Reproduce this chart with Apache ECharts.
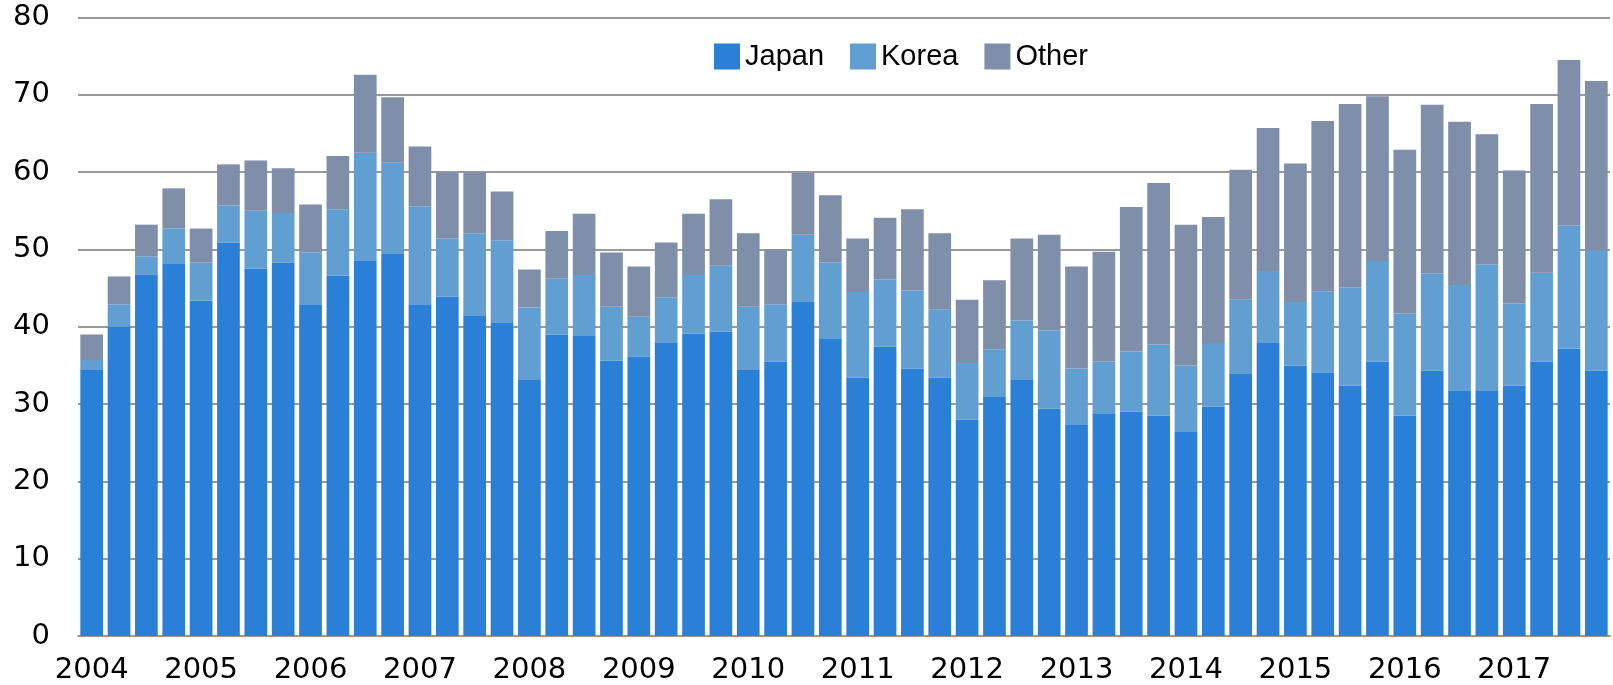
<!DOCTYPE html>
<html>
<head>
<meta charset="utf-8">
<title>Japan / Korea / Other</title>
<script src="https://cdn.jsdelivr.net/npm/echarts@6/dist/echarts.min.js"></script>
<style>
  html, body { margin: 0; padding: 0; background: #fff; }
  #main { width: 1613px; height: 685px; }
</style>
</head>
<body>
<div id="main"></div>
<script>
// years shown on the axis, one bar per quarter
var years = ['2004','2005','2006','2007','2008','2009','2010','2011','2012','2013','2014','2015','2016','2017'];
var quarters = ['Q1','Q2','Q3','Q4'];

var japan = [34.5,40.0,46.7,48.2, 43.4,50.9,47.5,48.3, 42.9,46.6,48.5,49.5, 42.9,43.9,41.5,40.5,
             33.2,39.0,38.8,35.6, 36.1,38.0,39.1,39.4, 34.5,35.5,43.2,38.5, 33.4,37.4,34.6,33.4,
             28.0,30.9,33.1,29.4, 27.4,28.7,29.0,28.5, 26.4,29.7,33.9,38.0, 35.0,34.1,32.4,35.5,
             28.5,34.3,31.7,31.8, 32.4,35.5,37.2,34.3];
var korea = [1.2,2.9,2.4,4.5, 4.9,4.8,7.5,6.4, 6.7,8.6,14.0,11.7, 12.7,7.5,10.6,10.7,
             9.3,7.2,7.9,7.0, 5.2,5.8,7.6,8.5, 8.1,7.4,8.7,9.8, 11.1,8.7,10.1,8.8,
             7.3,6.2,7.7,10.1, 7.2,6.8,7.8,9.2, 8.6,8.2,9.6,9.2, 8.2,10.5,12.7,13.0,
             13.2,12.6,13.7,16.3, 10.6,11.5,15.9,15.6];
var other = [3.3,3.6,4.1,5.2, 4.4,5.3,6.5,5.8, 6.2,6.9,10.1,8.5, 7.7,8.6,7.9,6.3,
             4.9,6.2,7.9,7.0, 6.5,7.1,7.9,8.6, 9.5,7.1,8.0,8.7, 6.9,8.0,10.5,9.9,
             8.2,8.9,10.6,12.4, 13.2,14.2,18.7,20.9, 18.2,16.3,16.8,18.5, 17.9,22.0,23.7,21.3,
             21.2,21.8,21.1,16.8, 17.2,21.8,21.4,21.9];

var categories = [];
years.forEach(function (y) {
    quarters.forEach(function (q) { categories.push(y + ' ' + q); });
});

var font = 'DejaVu Sans';
var chart = echarts.init(document.getElementById('main'));

function bar(name, data, color) {
    return {
        name: name,
        type: 'bar',
        stack: 'total',
        data: data,
        barCategoryGap: '17%',
        itemStyle: { color: color },
        emphasis: { disabled: true }
    };
}

chart.setOption({
    animation: false,
    textStyle: { fontFamily: font },
    legend: {
        left: 709,
        top: 37,
        itemWidth: 26,
        itemHeight: 26,
        itemGap: 26,
        icon: 'rect',
        textStyle: { fontFamily: 'Liberation Sans', fontSize: 29, color: '#000' },
        data: ['Japan', 'Korea', 'Other']
    },
    grid: { left: 78, right: 3, top: 17.5, bottom: 47, containLabel: false },
    xAxis: {
        type: 'category',
        data: categories,
        axisLine: { lineStyle: { color: '#999', width: 2 } },
        axisTick: { interval: 3, length: 9, lineStyle: { color: '#999', width: 2 } },
        axisLabel: {
            interval: 3,
            margin: 20,
            fontFamily: font,
            fontSize: 29,
            color: '#000',
            formatter: function (v) { return v.split(' ')[0]; }
        }
    },
    yAxis: {
        type: 'value',
        min: 0,
        max: 80,
        interval: 10,
        axisLine: { show: false },
        axisTick: { show: false },
        splitLine: { lineStyle: { color: '#999', width: 2 } },
        axisLabel: { margin: 28, fontFamily: font, fontSize: 29, color: '#000' }
    },
    series: [
        bar('Japan', japan, '#2a7fd6'),
        bar('Korea', korea, '#619ed2'),
        bar('Other', other, '#7f8ea9')
    ]
});
</script>
</body>
</html>
